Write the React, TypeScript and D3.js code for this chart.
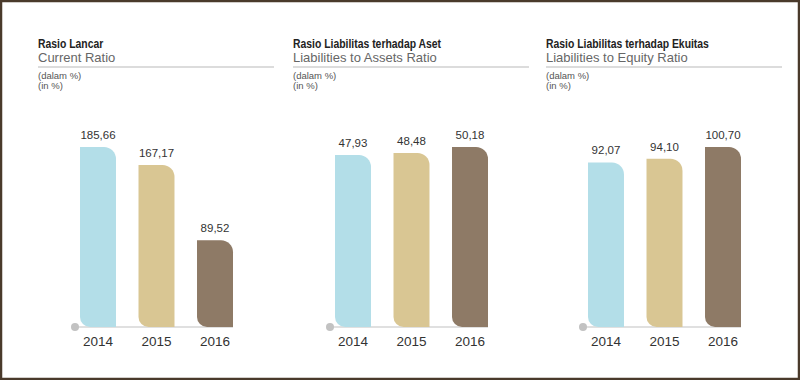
import React from "react";
import * as d3 from "d3";

const years = ["2014", "2015", "2016"];
const titlesId = ["Rasio Lancar", "Rasio Liabilitas terhadap Aset", "Rasio Liabilitas terhadap Ekuitas"];
const titlesEn = ["Current Ratio", "Liabilities to Assets Ratio", "Liabilities to Equity Ratio"];
const currentRatio = [185.66, 167.17, 89.52];
const liabAssets = [47.93, 48.48, 50.18];
const liabEquity = [92.07, 94.1, 100.7];
const seriesList = [currentRatio, liabAssets, liabEquity];
const unitId = "(dalam %)";
const unitEn = "(in %)";
const colors = ["#b3dee8", "#d9c693", "#8e7a66"];

const panelLefts = [38, 293, 546];
const fmt = (v: number) => v.toFixed(2).replace(".", ",");

function leafPath(x: number, y: number, w: number, h: number, rTop: number, rBot: number) {
  const rt = Math.min(rTop, h / 2, w / 2);
  const rb = Math.min(rBot, h / 2, w / 2);
  return [
    `M${x},${y}`,
    `H${x + w - rt}`,
    `A${rt},${rt} 0 0 1 ${x + w},${y + rt}`,
    `V${y + h}`,
    `H${x + rb}`,
    `A${rb},${rb} 0 0 1 ${x},${y + h - rb}`,
    "Z",
  ].join(" ");
}

const sans = "'Liberation Sans', Arial, Helvetica, sans-serif";

function Panel({ idx }: { idx: number }) {
  const left = panelLefts[idx];
  const data = seriesList[idx];
  const baseY = 327;
  const x = d3.scaleBand<string>().domain(years).range([42, 195]).paddingInner(0.385).paddingOuter(0);
  const y = d3.scaleLinear().domain([0, d3.max(data) as number]).range([baseY, 147]);
  const bw = x.bandwidth();
  return (
    <g transform={`translate(${left},0)`}>
      <g transform="translate(0,48) scale(0.8,1)">
        <text x={0} y={0} fontFamily={sans} fontWeight="bold" fontSize={13} fill="#222">
          {titlesId[idx]}
        </text>
      </g>
      <text x={0} y={62} fontFamily={sans} fontSize={13} fill="#666">
        {titlesEn[idx]}
      </text>
      <line x1={0} x2={236} y1={67} y2={67} stroke="#dcdcdc" strokeWidth={2} />
      <text x={0} y={79} fontFamily={sans} fontSize={9.5} fill="#555">
        {unitId}
      </text>
      <text x={0} y={89} fontFamily={sans} fontSize={9.5} fill="#555">
        {unitEn}
      </text>
      <line x1={37} x2={x(years[2])! + bw} y1={baseY} y2={baseY} stroke="#d6d6d6" strokeWidth={1.5} />
      <circle cx={37} cy={baseY} r={4} fill="#c2c2c2" />
      {years.map((yr, i) => {
        const bx = x(yr)!;
        const by = y(data[i]);
        return (
          <g key={yr}>
            <path d={leafPath(bx, by, bw, baseY - by, 12, 10)} fill={colors[i]} />
            <text x={bx + bw / 2} y={by - 8} textAnchor="middle" fontFamily={sans} fontSize={11.5} fill="#333">
              {fmt(data[i])}
            </text>
            <text x={bx + bw / 2} y={346} textAnchor="middle" fontFamily={sans} fontSize={13.5} fill="#333">
              {yr}
            </text>
          </g>
        );
      })}
    </g>
  );
}

export default function App() {
  return (
    <svg width={800} height={380} style={{ position: "absolute", left: 0, top: 0 }}>
      <rect x={0} y={0} width={800} height={380} fill="#fff" />
      <rect x={1} y={1} width={798} height={378} fill="none" stroke="#4a3a2b" strokeWidth={2.5} />
      {[0, 1, 2].map((i) => (
        <Panel key={i} idx={i} />
      ))}
    </svg>
  );
}
